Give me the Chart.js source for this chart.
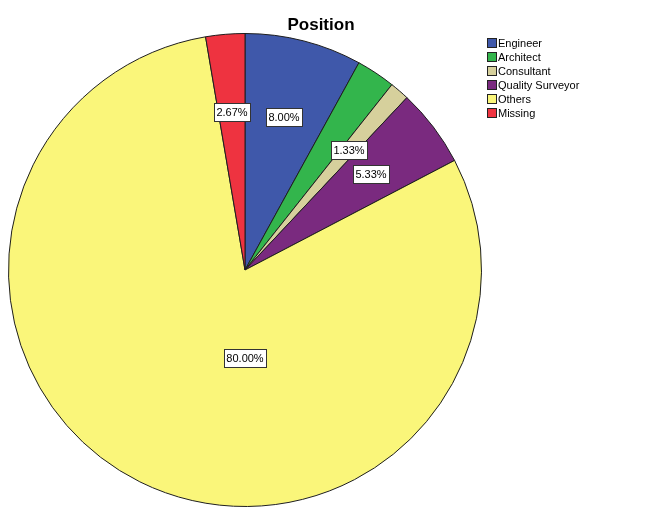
<!DOCTYPE html>
<html>
<head>
<meta charset="utf-8">
<script src="https://cdn.jsdelivr.net/npm/chart.js@4"></script>
<style>
  html, body { margin: 0; padding: 0; background: #fff; }
  #wrap { width: 646px; height: 514px; }
</style>
</head>
<body>
<div id="wrap"><canvas id="pie-chart"></canvas></div>
<script>
const categories = ["Engineer", "Architect", "Consultant", "Quality Surveyor", "Others", "Missing"];
const counts = [6, 2, 1, 4, 60, 2];
const colors = ["#3F58AA", "#33B54C", "#D6D09C", "#7A2A7F", "#FAF67A", "#EE3340"];
// SPSS dropped the Architect label because it collided with its neighbour
const hiddenLabels = ["Architect"];
const chartTitle = "Position";

const FONT = "Arial, 'Liberation Sans', sans-serif";
const total = counts.reduce((a, b) => a + b, 0);

const sliceLabels = {
    id: "sliceLabels",
    afterDatasetsDraw(chart) {
        const ctx = chart.ctx;
        const meta = chart.getDatasetMeta(0);
        ctx.save();
        ctx.font = "11px " + FONT;
        ctx.textAlign = "center";
        ctx.textBaseline = "middle";
        meta.data.forEach((arc, i) => {
            if (hiddenLabels.includes(categories[i])) return;
            const share = counts[i] / total;
            const text = (share * 100).toFixed(2) + "%";
            let x, y;
            if (share > 0.5) {
                x = arc.x;
                y = arc.y + arc.outerRadius * 0.37;
            } else {
                const mid = (arc.startAngle + arc.endAngle) / 2;
                const r = arc.outerRadius * 0.67;
                x = arc.x + Math.cos(mid) * r;
                y = arc.y + Math.sin(mid) * r;
            }
            const w = Math.round(ctx.measureText(text).width) + 5;
            const h = 18;
            const bx = Math.round(x - w / 2) + 0.5;
            const by = Math.round(y - h / 2) + 0.5;
            ctx.fillStyle = "#fff";
            ctx.fillRect(bx, by, w, h);
            ctx.strokeStyle = "#333";
            ctx.lineWidth = 1;
            ctx.strokeRect(bx, by, w, h);
            ctx.fillStyle = "#000";
            ctx.fillText(text, Math.round(x), Math.round(y) + 1);
        });
        ctx.restore();
    }
};

const sideLegend = {
    id: "sideLegend",
    afterDraw(chart) {
        const ctx = chart.ctx;
        ctx.save();
        ctx.font = "bold 17px " + FONT;
        ctx.textAlign = "center";
        ctx.textBaseline = "alphabetic";
        ctx.fillStyle = "#000";
        ctx.fillText(chartTitle, chart.width / 2 - 2, 30);

        ctx.font = "11px " + FONT;
        ctx.textAlign = "left";
        ctx.textBaseline = "middle";
        categories.forEach((name, i) => {
            const x = 487.5, y = 38.5 + i * 14;
            ctx.fillStyle = colors[i];
            ctx.fillRect(x, y, 9, 9);
            ctx.strokeStyle = "#222";
            ctx.lineWidth = 1;
            ctx.strokeRect(x, y, 9, 9);
            ctx.fillStyle = "#000";
            ctx.fillText(name, 498, y + 5);
        });
        ctx.restore();
    }
};

new Chart(document.getElementById("pie-chart"), {
    type: "pie",
    data: {
        labels: categories,
        datasets: [{
            data: counts,
            backgroundColor: colors,
            borderColor: "#1e1e1e",
            borderWidth: 1,
        }],
    },
    options: {
        responsive: true,
        maintainAspectRatio: false,
        animation: false,
        layout: {
            padding: { left: 8, right: 164, top: 33, bottom: 7 },
        },
        plugins: {
            legend: { display: false },
            tooltip: { enabled: false },
            title: { display: false },
        },
    },
    plugins: [sliceLabels, sideLegend],
});
</script>
</body>
</html>
